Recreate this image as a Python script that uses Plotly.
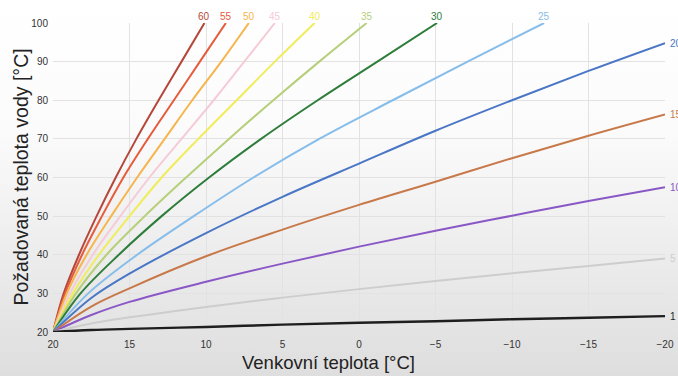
import base64
import plotly.graph_objects as go

# outdoor temperature [°C] -> required water temperature [°C]
# steep curves: outdoor temperature where each 10 °C step of water temp is reached
water_steps = [20, 30, 40, 50, 60, 70, 80, 90, 100]
outdoor_60 = [20, 19.3, 18.3, 17.15, 15.9, 14.55, 13.1, 11.6, 10.1]
outdoor_55 = [20, 19.2, 18.1, 16.8, 15.4, 13.8, 12.1, 10.4, 8.7]
outdoor_50 = [20, 19.1, 17.8, 16.2, 14.5, 12.7, 10.9, 9.0, 7.2]
outdoor_45 = [20, 18.9, 17.4, 15.6, 13.7, 11.6, 9.5, 7.5, 5.5]
outdoor_40 = [20, 18.7, 17.0, 15.0, 12.9, 10.5, 8.0, 5.5, 2.9]
outdoor_35 = [20, 18.5, 16.5, 14.0, 11.3, 8.5, 5.6, 2.6, -0.5]
outdoor_30 = [20, 18.2, 15.7, 12.9, 9.8, 6.4, 2.7, -1.2, -5.1]
outdoor_25 = [20, 17.7, 14.5, 10.8, 6.9, 2.6, -2.2, -7.1, -12.1]

# flat curves: water temperature at fixed outdoor temperatures
outdoor_grid = [20, 17.5, 15, 10, 5, 0, -5, -10, -15, -20]
water_20 = [20, 28.8, 35.1, 45.6, 55.0, 63.6, 72.1, 80.0, 87.6, 94.8]
water_15 = [20, 26.6, 31.3, 39.6, 46.5, 52.9, 58.9, 65.0, 70.8, 76.3]
water_10 = [20, 24.4, 27.8, 33.0, 37.7, 42.1, 46.2, 50.1, 53.9, 57.5]
water_5 = [20, 22.2, 23.8, 26.5, 28.9, 31.1, 33.2, 35.2, 37.1, 39.0]
water_1 = [20, 20.5, 20.8, 21.3, 21.9, 22.4, 22.8, 23.3, 23.7, 24.1]

x_ticks = [20, 15, 10, 5, 0, -5, -10, -15, -20]
y_ticks = [20, 30, 40, 50, 60, 70, 80, 90, 100]

steep = [
    ("60", outdoor_60, "#b5473a"),
    ("55", outdoor_55, "#e65b3c"),
    ("50", outdoor_50, "#f6b54c"),
    ("45", outdoor_45, "#f5cbd6"),
    ("40", outdoor_40, "#f0ec5a"),
    ("35", outdoor_35, "#b6cf78"),
    ("30", outdoor_30, "#2f7d3a"),
    ("25", outdoor_25, "#86bdea"),
]
flat = [
    ("20", water_20, "#4a76c6"),
    ("15", water_15, "#c8794a"),
    ("10", water_10, "#8a58c6"),
    ("5", water_5, "#cdcdcd"),
    ("1", water_1, "#1e1e1e"),
]

fig = go.Figure()
font = "Liberation Sans, Arial, sans-serif"
annotations = []

for name, xs, color in steep:
    fig.add_trace(go.Scatter(x=xs, y=water_steps, mode="lines", name=name,
                             line=dict(color=color, width=2, shape="spline")))
    annotations.append(dict(x=xs[-1], y=100, xref="x", yref="y", text=name,
                            showarrow=False, xanchor="center", yanchor="bottom",
                            yshift=-1, font=dict(family=font, size=10, color=color)))

for name, ys, color in flat:
    fig.add_trace(go.Scatter(x=outdoor_grid, y=ys, mode="lines", name=name,
                             line=dict(color=color, width=2.4 if name == "1" else 2,
                                       shape="spline")))
    # labels run off the right edge, as in the original
    annotations.append(dict(x=outdoor_grid[-1], y=ys[-1], xref="x", yref="y", text=name,
                            showarrow=False, xanchor="left", yanchor="middle",
                            xshift=3, font=dict(family=font, size=10, color=color)))

# axis titles placed as in the original
annotations.append(dict(x=0.45, y=-0.1, xref="paper", yref="paper",
                        text="Venkovní teplota [°C]", showarrow=False,
                        xanchor="center", yanchor="middle",
                        font=dict(family=font, size=18.5, color="#222222")))
annotations.append(dict(x=-53 / 612 + 20 / 612, y=0.5, xref="paper", yref="paper",
                        text="Požadovaná teplota vody [°C]", showarrow=False,
                        textangle=-90, xanchor="center", yanchor="middle",
                        font=dict(family=font, size=19.5, color="#222222")))

# soft white-to-grey background like the original
svg = ('<svg xmlns="http://www.w3.org/2000/svg" width="678" height="376">'
       '<defs><linearGradient id="g" x1="0" y1="0" x2="0" y2="1">'
       '<stop offset="0" stop-color="#ffffff"/><stop offset="0.35" stop-color="#fbfbfb"/>'
       '<stop offset="1" stop-color="#dedede"/></linearGradient></defs>'
       '<rect width="678" height="376" fill="url(#g)"/></svg>')
bg_src = "data:image/svg+xml;base64," + base64.b64encode(svg.encode()).decode()

fig.update_layout(
    width=678, height=376,
    margin=dict(l=53, r=13, t=23, b=44),
    paper_bgcolor="#f2f2f2", plot_bgcolor="rgba(0,0,0,0)",
    showlegend=False,
    annotations=annotations,
    images=[dict(source=bg_src, xref="paper", yref="paper",
                 x=-53 / 612, y=1 + 23 / 309, sizex=678 / 612, sizey=376 / 309,
                 xanchor="left", yanchor="top", sizing="stretch", layer="below")],
    xaxis=dict(range=[20, -20], tickvals=x_ticks, showgrid=True, gridcolor="#e2e2e2",
               zeroline=False, showline=False, ticks="", automargin=False,
               ticklabelstandoff=5,
               tickfont=dict(family=font, size=10, color="#333333")),
    yaxis=dict(range=[20, 100], tickvals=y_ticks, showgrid=True, gridcolor="#e2e2e2",
               zeroline=False, showline=False, ticks="", automargin=False,
               ticklabelstandoff=4,
               tickfont=dict(family=font, size=10, color="#333333")),
)

# drop the browser's default page margin so the figure fills the window
fig.write_html("out.html", config={"displayModeBar": False},
               post_script="document.body.style.margin = '0';")
